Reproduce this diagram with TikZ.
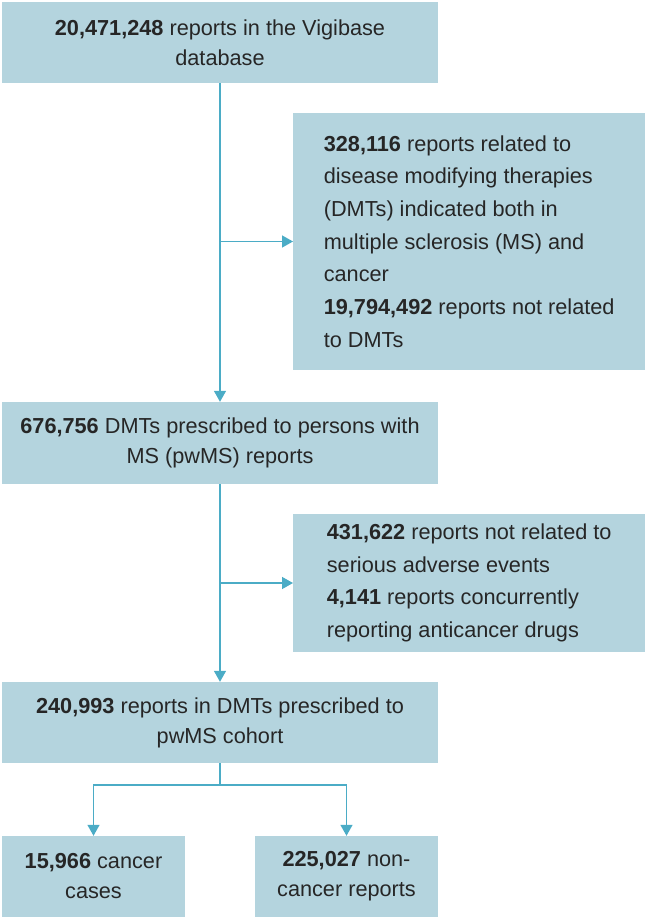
\documentclass[tikz,border=0pt]{standalone}
\usepackage{fontspec}
\setmainfont{Liberation Sans}
\usetikzlibrary{arrows.meta}
\definecolor{boxfill}{HTML}{B4D4DE}
\definecolor{flow}{HTML}{4BACC6}
\definecolor{ink}{HTML}{262626}
\tikzset{>={Triangle[length=11pt,width=12pt]}}
\tikzset{
  stage/.style={fill=boxfill,text=ink,inner sep=0pt,align=center,
    minimum width=436pt,minimum height=81pt,font=\fontsize{21.7}{30}\selectfont},
  drop/.style={fill=boxfill,text=ink,inner xsep=29pt,inner ysep=0pt,anchor=west,
    align=left,minimum width=352pt,minimum height=#1,font=\fontsize{21.7}{32.7}\selectfont},
  leaf/.style={stage,minimum width=183pt},
  flowline/.style={flow,line width=1.4pt},
}

\begin{document}
\begin{tikzpicture}[x=1pt,y=-1pt]
\useasboundingbox (0,0) rectangle (651,920);
% main column
\node[stage] (db) at (220,42.5) {\textbf{20,471,248} reports in the Vigibase\\database};
\node[stage,minimum height=82pt] (pwms) at (220,443) {\textbf{676,756} DMTs prescribed to persons with\\MS (pwMS) reports};
\node[stage] (cohort) at (220,722.5) {\textbf{240,993} reports in DMTs prescribed to\\pwMS cohort};
% exclusions
\node[drop=257pt] (excl1) at (293,241.5) {\textbf{328,116} reports related to\\disease modifying therapies\\(DMTs) indicated both in\\multiple sclerosis (MS) and\\cancer\\\textbf{19,794,492} reports not related\\to DMTs};
\node[drop=138pt] (excl2) at (293,583) {\textbf{431,622} reports not related to\\serious adverse events\\\textbf{4,141} reports concurrently\\reporting anticancer drugs};
% outcome split
\node[leaf] (cancer) at (93.5,876.5) {\textbf{15,966} cancer\\cases};
\node[leaf] (noncancer) at (346.5,876.5) {\textbf{225,027} non-\\cancer reports};

\coordinate (tee1) at (db.south |- excl1.west);
\coordinate (tee2) at (pwms.south |- excl2.west);
\coordinate (fork) at (220,785);

\draw[flowline,->] (db.south) -- (pwms.north);
\draw[flowline,->] (tee1) -- (excl1.west);
\draw[flowline,->] (pwms.south) -- (cohort.north);
\draw[flowline,->] (tee2) -- (excl2.west);
\draw[flowline] (cohort.south) -- (fork);
\draw[flowline,->] (fork) -| (cancer.north);
\draw[flowline,->] (fork) -| (noncancer.north);
\end{tikzpicture}
\end{document}
